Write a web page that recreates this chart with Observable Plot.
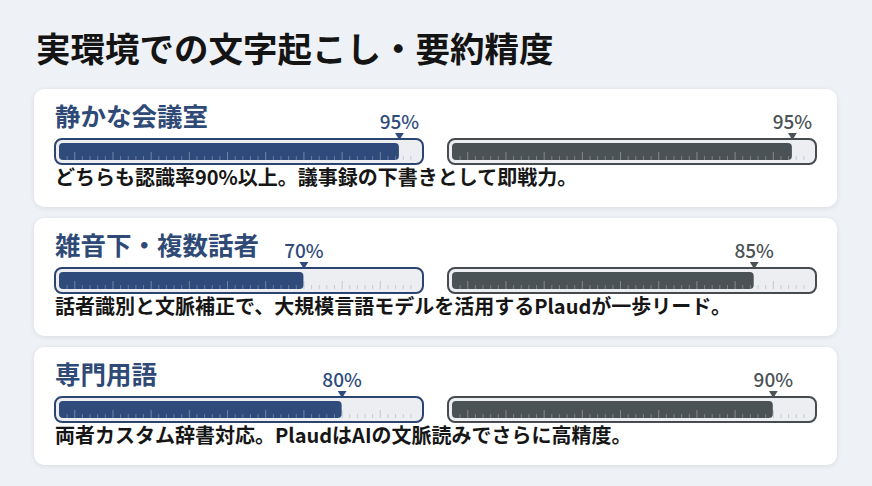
<!DOCTYPE html>
<html lang="ja">
<head>
<meta charset="utf-8">
<script src="https://cdn.jsdelivr.net/npm/d3@7"></script>
<script src="https://cdn.jsdelivr.net/npm/@observablehq/plot@0.6"></script>
<style>
  html, body { margin: 0; padding: 0; }
  body {
    width: 872px; height: 486px; position: relative; overflow: hidden;
    background: #eef1f5;
    font-family: "Noto Sans CJK JP", "Noto Sans", sans-serif;
  }
  #title {
    position: absolute; left: 36px; top: 30px; margin: 0;
    font-size: 34.5px; line-height: 1; font-weight: 700; color: #141414;
    white-space: nowrap;
  }
  .card {
    position: absolute; left: 34px; width: 803px; height: 118px;
    background: #ffffff; border-radius: 10px;
    box-shadow: 0 1px 5px rgba(30, 40, 60, 0.10);
  }
  .card-title {
    position: absolute; left: 21px; top: 13px;
    font-size: 25.5px; line-height: 1; font-weight: 700; color: #2f4a77;
    white-space: nowrap;
  }
  .card-desc {
    position: absolute; left: 21px; top: 78px;
    font-size: 20px; line-height: 1; font-weight: 700; color: #161616;
    white-space: nowrap;
  }
  .card-plot { position: absolute; left: 0; top: 20px; }
  .card-plot svg { display: block; overflow: visible; }
</style>
</head>
<body>
<h1 id="title"></h1>
<div id="cards"></div>
<script>
// ---- data ----
const chartTitle = "実環境での文字起こし・要約精度";
const scenarios = ["静かな会議室", "雑音下・複数話者", "専門用語"];
const descriptions = [
  "どちらも認識率90%以上。議事録の下書きとして即戦力。",
  "話者識別と文脈補正で、大規模言語モデルを活用するPlaudが一歩リード。",
  "両者カスタム辞書対応。PlaudはAIの文脈読みでさらに高精度。"
];
const products = ["比較製品", "Plaud"];
const competitorValues = [95, 70, 80];
const plaudValues = [95, 85, 90];
const gaugeDomain = [6, 100];
const gaugeTicks = [8, 10, 12, 14, 16, 18, 20, 22, 24, 26, 28, 30, 32, 34, 36, 38, 40, 42, 44, 46, 48, 50,
  52, 54, 56, 58, 60, 62, 64, 66, 68, 70, 72, 74, 76, 78, 80, 82, 84, 86, 88, 90, 92, 94, 96, 98];
const productColors = ["#2f4b7c", "#4b5256"];
const borderColors = ["#2b4470", "#464b4f"];

document.getElementById("title").textContent = chartTitle;

const downTriangle = {
  draw(context, size) {
    const w = Math.sqrt(size) * 0.62, h = Math.sqrt(size) * 0.5;
    context.moveTo(-w, -h);
    context.lineTo(w, -h);
    context.lineTo(0, h);
    context.closePath();
  }
};

const font = "'Noto Sans CJK JP', 'Noto Sans', sans-serif";
const cardsEl = document.getElementById("cards");

scenarios.forEach((scenario, i) => {
  const card = document.createElement("div");
  card.className = "card";
  card.style.top = (89 + i * 129) + "px";

  const t = document.createElement("div");
  t.className = "card-title";
  t.textContent = scenario;
  card.appendChild(t);

  const rows = products.map((name, j) => ({
    name,
    value: j === 0 ? competitorValues[i] : plaudValues[i]
  }));
  const tickRows = rows.flatMap(r => gaugeTicks.map(v => ({
    name: r.name, x: v, major: v % 10 === 0, filled: v < r.value - 0.5
  })));

  const plot = Plot.plot({
    width: 803,
    height: 58,
    marginTop: 0, marginBottom: 0, marginLeft: 21, marginRight: 20,
    style: { background: "transparent", fontFamily: font, overflow: "visible" },
    fx: { domain: products, paddingInner: 0.0635, paddingOuter: 0, axis: null, label: null },
    x: { domain: gaugeDomain, insetLeft: 4, insetRight: 5, axis: null },
    color: { domain: products, range: productColors },
    marks: [
      // track
      Plot.rect(rows, {
        fx: "name", x1: () => gaugeDomain[0], x2: () => gaugeDomain[1],
        insetLeft: -4, insetRight: -5, insetTop: 30, insetBottom: 3,
        rx: 7, fill: "#eceef1",
        stroke: d => borderColors[products.indexOf(d.name)], strokeWidth: 2
      }),
      // unfilled ticks
      Plot.tickX(tickRows.filter(d => !d.filled && !d.major), {
        fx: "name", x: "x", stroke: "#c6cbd1", strokeWidth: 1,
        insetTop: 47, insetBottom: 7
      }),
      Plot.tickX(tickRows.filter(d => !d.filled && d.major), {
        fx: "name", x: "x", stroke: "#c2c7cd", strokeWidth: 1,
        insetTop: 43, insetBottom: 7
      }),
      // fill bar
      Plot.barX(rows, {
        fx: "name", x1: () => gaugeDomain[0], x2: "value",
        fill: "name", insetTop: 34, insetBottom: 7, rx: 4
      }),
      // ticks on fill
      Plot.tickX(tickRows.filter(d => d.filled && !d.major), {
        fx: "name", x: "x", stroke: "#ffffff", strokeOpacity: 0.28, strokeWidth: 1,
        insetTop: 47, insetBottom: 7
      }),
      Plot.tickX(tickRows.filter(d => d.filled && d.major), {
        fx: "name", x: "x", stroke: "#ffffff", strokeOpacity: 0.32, strokeWidth: 1,
        insetTop: 43, insetBottom: 7
      }),
      // marker
      Plot.dot(rows, {
        fx: "name", x: "value", frameAnchor: "top", dy: 27,
        symbol: downTriangle, r: 4, fill: "name", stroke: "none"
      }),
      // value label
      Plot.text(rows, {
        fx: "name", x: "value", text: d => d.value + "%",
        frameAnchor: "top", dy: 19, lineAnchor: "bottom",
        fill: "name", fontSize: 19, fontWeight: 500, fontFamily: font
      })
    ]
  });

  const wrap = document.createElement("div");
  wrap.className = "card-plot";
  wrap.appendChild(plot);
  card.appendChild(wrap);

  const dsc = document.createElement("div");
  dsc.className = "card-desc";
  dsc.textContent = descriptions[i];
  card.appendChild(dsc);

  cardsEl.appendChild(card);
});
</script>
</body>
</html>
